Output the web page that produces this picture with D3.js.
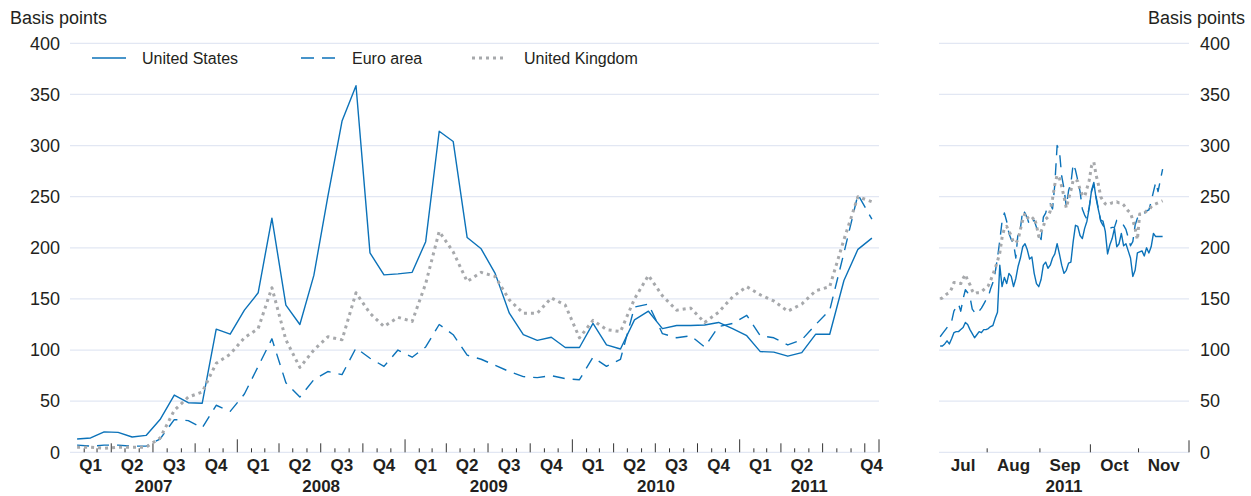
<!DOCTYPE html>
<html>
<head>
<meta charset="utf-8">
<script src="https://cdn.jsdelivr.net/npm/d3@7"></script>
<style>
  body { margin: 0; background: #ffffff; }
  svg text { font-family: "Liberation Sans", Arial, sans-serif; fill: #231f20; }
</style>
</head>
<body>
<svg id="chart" width="1251" height="496"></svg>
<script>
// monthly averages, Jan 2007 - Oct 2011
const usMonthly = [13, 14, 20, 19.5, 15, 16.5, 32, 56, 48.5, 48,
    120.5, 115.5, 139, 156, 229, 144, 125, 173, 250, 324,
    358.5, 195, 173.5, 174.5, 176, 206, 314, 304, 210, 199,
    175, 136, 115, 109.5, 112.5, 102.5, 102.5, 126, 105, 101,
    129.5, 138, 121, 124, 124, 124.5, 127, 121, 114, 98.5,
    98, 94, 97.5, 115.5, 115.5, 168, 198.5, 209.5];
const euroMonthly = [7, 6, 7, 7, 6, 6, 13, 32, 31, 24,
    46, 40, 57, 84, 111, 68, 54, 71, 79, 76,
    102, 92, 84, 100, 93, 103, 125, 115, 95, 91,
    85, 79, 74, 73, 75, 72, 71, 93, 84, 91,
    142, 145, 116, 112, 114, 103, 123, 126, 134, 114,
    112, 105, 110, 125, 139, 195, 252, 228];
const ukMonthly = [5, 5, 4, 5, 5, 5, 14, 41, 54, 59,
    87, 96, 112, 121, 161, 110, 83, 100, 113, 110,
    156, 136, 123, 132, 128, 165, 216, 196, 167, 176,
    172, 149, 136, 136, 151, 144, 112, 129, 120, 118,
    150, 173, 153, 139, 141, 127, 137, 152, 162, 154,
    148, 138, 145, 158, 162, 208, 250, 245];

// daily, business days 1 Jul - 15 Nov 2011
const usDaily = [104, 104, 106, 109, 106, 111, 117, 118, 118, 120,
    122, 127, 125, 120, 116, 112, 115, 118, 117, 120,
    120, 121, 123, 124, 131, 137, 183, 162, 171, 165,
    175, 172, 162, 170, 182, 190, 201, 204, 198, 189,
    191, 175, 165, 162, 169, 183, 186, 180, 183, 190,
    194, 204, 194, 183, 175, 178, 185, 186, 206, 222,
    221, 212, 209, 219, 226, 239, 256, 264, 248, 237,
    227, 226, 216, 194, 203, 209, 219, 201, 204, 214,
    202, 204, 197, 190, 172, 178, 195, 196, 197, 192,
    200, 195, 201, 214, 211, 211, 211, 211];
const euroDaily = [113, 116, 119, 122, 125, 128, 138, 142, 145, 138,
    150, 159, 156, 152, 140, 137, 135, 138, 141, 145,
    149, 152, 160, 166, 176, 190, 207, 226, 234, 226,
    214, 208, 204, 190, 216, 219, 237, 234, 229, 222,
    225, 227, 220, 214, 208, 230, 234, 242, 243, 238,
    262, 300, 295, 270, 258, 240, 256, 263, 282, 276,
    266, 255, 238, 232, 228, 240, 255, 262, 250, 238,
    226, 222, 219, 218, 219, 220, 220, 227, 227, 225,
    222, 218, 210, 202, 206, 222, 229, 232, 233, 234,
    236, 237, 245, 255, 264, 255, 266, 277];
const ukDaily = [150, 151, 153, 155, 156, 160, 166, 166, 165, 165,
    170, 174, 168, 164, 158, 155, 156, 156, 157, 159,
    161, 163, 168, 174, 180, 187, 195, 210, 219, 221,
    216, 212, 205, 205, 208, 218, 227, 234, 230, 227,
    228, 230, 222, 211, 216, 221, 228, 230, 236, 248,
    262, 271, 268, 260, 250, 239, 248, 256, 266, 267,
    265, 257, 252, 250, 258, 266, 280, 284, 271, 262,
    250, 246, 243, 242, 243, 244, 244, 245, 244, 244,
    242, 239, 236, 234, 227, 219, 208, 233, 233, 234,
    236, 237, 240, 242, 243, 244, 245, 246];

const yTicks = [0, 50, 100, 150, 200, 250, 300, 350, 400];
const quarterNames = ['Q1', 'Q2', 'Q3', 'Q4'];
const years = [2007, 2008, 2009, 2010, 2011];
const monthNames = ['Jul', 'Aug', 'Sep', 'Oct', 'Nov'];
const seriesNames = ['United States', 'Euro area', 'United Kingdom'];

const blue = '#0b72b9';
const grey = '#a7a9ac';
const gridColor = '#e2e7f3';
const styles = [
    { stroke: blue, width: 1.4, dash: null },
    { stroke: blue, width: 1.4, dash: '12,8' },
    { stroke: grey, width: 3, dash: '3,4' },
];

const svg = d3.select('#chart');
const y = d3.scaleLinear().domain([0, 400]).range([452.3, 43.3]);
const baseY = y(0);
const labelY = 471;
const yearY = 492;

// left panel: calendar time
const leftStart = new Date(2007, 0, 1);
const leftEnd = new Date(2011, 10, 1);
const xLeft = d3.scaleTime().domain([leftStart, leftEnd]).range([70, 879]);
const months = d3.timeMonth.range(leftStart, leftEnd);
const midMonth = d => new Date((+d + +d3.timeMonth.offset(d, 1)) / 2);

// right panel: business days
const rightStart = new Date(2011, 6, 1);
const rightEnd = new Date(2011, 11, 1);
const bizDays = d3.timeDay.range(rightStart, rightEnd).filter(d => d.getDay() !== 0 && d.getDay() !== 6);
const xRight = d3.scaleLinear().domain([0, bizDays.length]).range([939, 1189]);
const bizIndex = date => bizDays.findIndex(d => d >= date);

function drawGrid(x0, x1) {
    svg.append('g').selectAll('line').data(yTicks).join('line')
        .attr('x1', x0).attr('x2', x1)
        .attr('y1', d => y(d)).attr('y2', d => y(d))
        .attr('stroke', gridColor).attr('stroke-width', 1.3);
}

function drawTicks(positions) {
    svg.append('g').selectAll('line').data(positions).join('line')
        .attr('x1', d => d.x).attr('x2', d => d.x)
        .attr('y1', baseY).attr('y2', d => baseY - d.h)
        .attr('stroke', '#333').attr('stroke-width', 1);
}

function drawSeries(values, xFn, style) {
    const line = d3.line().x((d, i) => xFn(i)).y(d => y(d));
    svg.append('path').datum(values)
        .attr('d', line)
        .attr('fill', 'none')
        .attr('stroke', style.stroke)
        .attr('stroke-width', style.width)
        .attr('stroke-dasharray', style.dash)
        .attr('stroke-linejoin', 'round');
}

drawGrid(70, 879);
drawGrid(939, 1189);

// left axis ticks
const leftTicks = months.slice(1).map(m => ({
    x: xLeft(m),
    h: m.getMonth() === 0 ? 13 : (m.getMonth() % 3 === 0 ? 9 : 4)
}));
leftTicks.push({ x: xLeft(leftEnd), h: 13 });
drawTicks(leftTicks);

// right axis ticks
const rightTicks = [7, 8, 9, 10].map(m => ({
    x: xRight(bizIndex(new Date(2011, m, 1))),
    h: m === 9 ? 8 : 4
}));
rightTicks.push({ x: xRight(bizDays.length), h: 12 });
drawTicks(rightTicks);

// series
const leftX = i => xLeft(midMonth(months[i]));
const rightX = i => xRight(i + 0.5);
[usMonthly, euroMonthly, ukMonthly].forEach((s, k) => drawSeries(s, leftX, styles[k]));
[usDaily, euroDaily, ukDaily].forEach((s, k) => drawSeries(s, rightX, styles[k]));

// y labels
svg.append('g').selectAll('text').data(yTicks).join('text')
    .attr('x', 60).attr('y', d => y(d)).attr('dy', '0.35em')
    .attr('text-anchor', 'end').style('font-size', '18px')
    .text(d => d);
svg.append('g').selectAll('text').data(yTicks).join('text')
    .attr('x', 1200).attr('y', d => y(d)).attr('dy', '0.35em')
    .attr('text-anchor', 'start').style('font-size', '18px')
    .text(d => d);
svg.append('text').attr('x', 10).attr('y', 18).attr('dy', '0.35em')
    .style('font-size', '18px').text('Basis points');
svg.append('text').attr('x', 1245).attr('y', 18).attr('dy', '0.35em')
    .attr('text-anchor', 'end').style('font-size', '18px').text('Basis points');

// quarter and year labels
const qLabels = [];
years.forEach(yr => {
    quarterNames.forEach((q, qi) => {
        const mid = new Date((+new Date(yr, qi * 3, 1) + +new Date(yr, qi * 3 + 3, 1)) / 2);
        // 2011 Q3 and Q4 are not labelled at their middle
        if (yr === 2011 && qi >= 2) return;
        qLabels.push({ text: q, x: xLeft(mid), anchor: 'middle' });
    });
});
// the final quarter is only partly shown, label it at the axis end
qLabels.push({ text: 'Q4', x: xLeft(leftEnd) + 4, anchor: 'end' });
svg.append('g').selectAll('text').data(qLabels).join('text')
    .attr('x', d => d.x).attr('y', labelY)
    .attr('text-anchor', d => d.anchor)
    .style('font-size', '17px').style('font-weight', 'bold')
    .text(d => d.text);

svg.append('g').selectAll('text').data(years).join('text')
    .attr('x', yr => {
        const a = xLeft(new Date(yr, 0, 1));
        const b = xLeft(d3.min([new Date(yr + 1, 0, 1), leftEnd]));
        return (a + b) / 2;
    })
    .attr('y', yearY)
    .attr('text-anchor', 'middle')
    .style('font-size', '17px').style('font-weight', 'bold')
    .text(d => d);

svg.append('g').selectAll('text').data(monthNames).join('text')
    .attr('x', (m, i) => {
        const a = bizIndex(new Date(2011, 6 + i, 1));
        const b = i === 4 ? bizDays.length : bizIndex(new Date(2011, 7 + i, 1));
        return xRight((a + b) / 2);
    })
    .attr('y', labelY)
    .attr('text-anchor', 'middle')
    .style('font-size', '17px').style('font-weight', 'bold')
    .text(d => d);
svg.append('text')
    .attr('x', (xRight(0) + xRight(bizDays.length)) / 2).attr('y', yearY)
    .attr('text-anchor', 'middle')
    .style('font-size', '17px').style('font-weight', 'bold')
    .text('2011');

// legend
const legendPos = [{ x: 92, tx: 142 }, { x: 301, tx: 352 }, { x: 472, tx: 524 }];
const legend = svg.append('g').attr('class', 'legend');
seriesNames.forEach((name, i) => {
    legend.append('line')
        .attr('x1', legendPos[i].x).attr('x2', legendPos[i].x + 34)
        .attr('y1', 58).attr('y2', 58)
        .attr('stroke', styles[i].stroke)
        .attr('stroke-width', styles[i].width)
        .attr('stroke-dasharray', i === 1 ? '13,8' : styles[i].dash);
    legend.append('text')
        .attr('x', legendPos[i].tx).attr('y', 58).attr('dy', '0.35em')
        .style('font-size', '16px')
        .text(name);
});
</script>
</body>
</html>
